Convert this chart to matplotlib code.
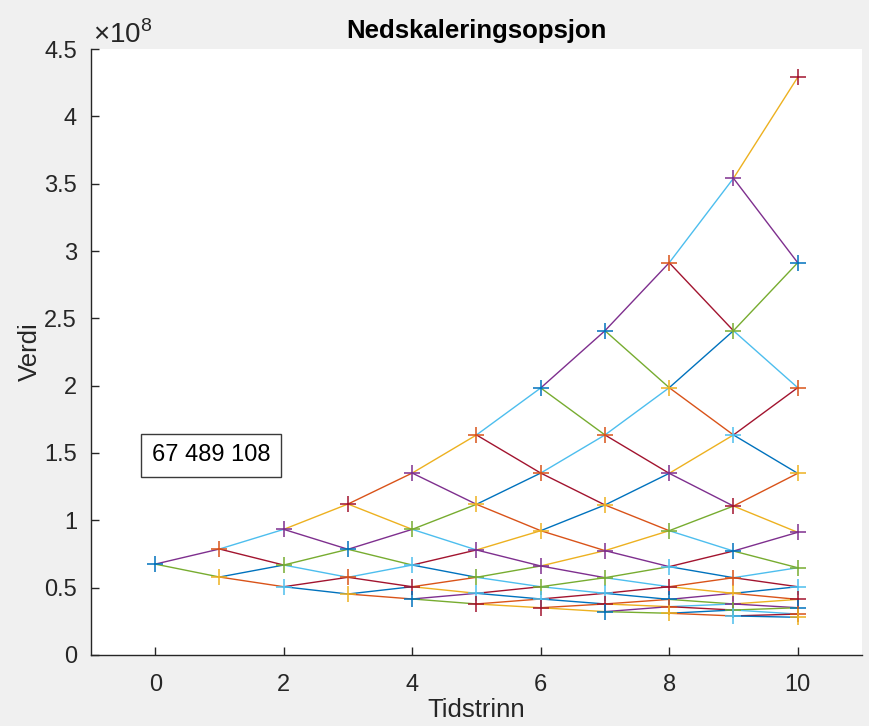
import matplotlib
matplotlib.use('Agg')
import matplotlib.pyplot as plt

plt.rcParams['font.family'] = ['Liberation Sans', 'DejaVu Sans']
plt.rcParams['mathtext.fontset'] = 'custom'
plt.rcParams['mathtext.rm'] = 'Liberation Sans'

# node values of the tree (millions), one list per time step, top node first
steps = list(range(11))
values = [
    [67.489],
    [78.7, 57.9],
    [93.3, 66.8, 50.7],
    [112.1, 78.5, 57.7, 45.3],
    [135.1, 93.3, 66.8, 50.7, 41.6],
    [163.4, 111.9, 78.0, 57.7, 45.8, 37.9],
    [198.3, 135.1, 92.3, 66.1, 50.7, 41.6, 35.1],
    [240.8, 163.4, 111.4, 77.5, 57.4, 45.8, 37.9, 32.2],
    [291.3, 198.5, 134.9, 92.3, 65.6, 50.7, 41.3, 35.9, 31.0],
    [354.0, 240.8, 163.4, 110.6, 77.2, 57.4, 45.8, 37.9, 33.4, 29.0],
    [429.0, 291.3, 198.5, 134.9, 91.1, 64.8, 50.7, 41.3, 35.1, 30.4, 28.0],
]
start_value = '67 489 108'
ytick_vals = [0, 0.5, 1, 1.5, 2, 2.5, 3, 3.5, 4, 4.5]
ytick_labels = ['0', '0.5', '1', '1.5', '2', '2.5', '3', '3.5', '4', '4.5']
xtick_vals = [0, 2, 4, 6, 8, 10]

# matlab default colour order
mcolors = ['#0072BD', '#D95319', '#EDB120', '#7E2F8E', '#77AC30', '#4DBEEE', '#A2142F']
txt_col = '#262626'

fig = plt.figure(figsize=(8.69, 7.26), dpi=100, facecolor='#f0f0f0')
ax = fig.add_axes([0.1047, 0.0978, 0.8872, 0.8347])
ax.set_facecolor('white')

# line segments, up then down for each node
k = 3
for i in steps[:-1]:
    for j in range(len(values[i])):
        for c in (j, j + 1):
            ax.plot([steps[i], steps[i + 1]],
                    [values[i][j] * 1e6, values[i + 1][c] * 1e6],
                    color=mcolors[k % 7], lw=1.0, zorder=2)
            k += 1

# node markers on top
n = 0
for i in steps:
    for v in values[i]:
        ax.plot(steps[i], v * 1e6, marker='+', ms=12, mew=1.1,
                color=mcolors[n % 7], zorder=3, ls='none')
        n += 1

ax.set_xlim(-1, 11)
ax.set_ylim(0, 4.5e8)
ax.set_xticks(xtick_vals)
ax.set_yticks([v * 1e8 for v in ytick_vals])
ax.set_yticklabels(ytick_labels)
ax.spines['top'].set_visible(False)
ax.spines['right'].set_visible(False)
for s in ('left', 'bottom'):
    ax.spines[s].set_color(txt_col)
    ax.spines[s].set_linewidth(1.0)
ax.tick_params(direction='in', length=6, width=1.0, colors=txt_col, labelsize=17)
ax.tick_params(axis='x', pad=14)
ax.tick_params(axis='y', pad=10)

ax.set_title('Nedskaleringsopsjon', fontsize=18.5, fontweight='bold', color='black', pad=8)
ax.set_xlabel('Tidstrinn', fontsize=18.5, color=txt_col, labelpad=1)
ax.set_ylabel('Verdi', fontsize=18.5, color=txt_col, labelpad=2)

ax.text(0.002, 1.0, r'$\times10^{8}$', transform=ax.transAxes, fontsize=20,
        color=txt_col, ha='left', va='bottom')

fig.text(0.243, 0.373, start_value, ha='center', va='center', fontsize=17,
         color='black',
         bbox=dict(boxstyle='square,pad=0.45', fc='white', ec='#3a3a3a', lw=1.0))

fig.savefig('out.png', dpi=100, facecolor=fig.get_facecolor())
plt.close('all')
